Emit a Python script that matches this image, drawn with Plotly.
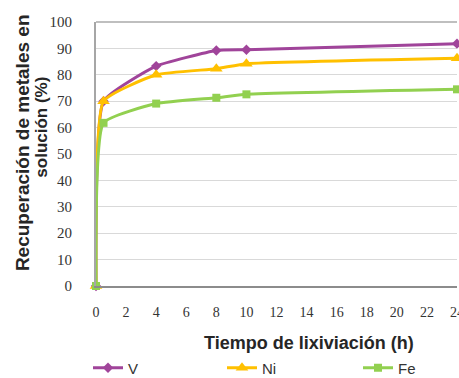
import plotly.graph_objects as go

tiempo = [0, 0.5, 4, 8, 10, 24]
v_vals = [0, 70, 83.3, 89.2, 89.5, 91.8]
ni_vals = [0, 70, 80, 82.3, 84.2, 86.3]
fe_vals = [0, 61.8, 69.1, 71.3, 72.6, 74.5]
x_ticks = list(range(0, 25, 2))
y_ticks = list(range(0, 101, 10))

fig = go.Figure()
series = [
    ("V", v_vals, "#A0449A", "diamond", 8, "legend"),
    ("Ni", ni_vals, "#FFC000", "triangle-up", 11, "legend2"),
    ("Fe", fe_vals, "#92D050", "square", 8, "legend3"),
]
for name, vals, color, sym, size, lg in series:
    fig.add_trace(go.Scatter(
        x=tiempo, y=vals, name=name, mode="lines+markers",
        line=dict(color=color, width=3, shape="spline", smoothing=0.42),
        marker=dict(symbol=sym, size=size, color=color),
        cliponaxis=False, legend=lg,
    ))

legend_font = dict(family="Liberation Sans, Arial", size=15, color="#333333")
def mk_legend(xpx):
    return dict(orientation="h", xref="container", yref="container",
                x=xpx / 459, xanchor="left", y=10 / 378, yanchor="middle",
                font=legend_font, bgcolor="rgba(0,0,0,0)")

title_font = "Liberation Sans, Arial"
fig.update_layout(
    width=459, height=378,
    margin=dict(l=96, r=2, t=22, b=92, autoexpand=False),
    paper_bgcolor="white", plot_bgcolor="white",
    showlegend=True,
    legend=mk_legend(88),
    legend2=mk_legend(222),
    legend3=mk_legend(358),
    xaxis=dict(range=[0, 24], tickvals=x_ticks, showgrid=False, zeroline=False,
               showline=True, linecolor="#8C8C8C", linewidth=2,
               ticks="outside", ticklen=12, tickcolor="rgba(0,0,0,0)",
               ticklabeloverflow="allow",
               tickfont=dict(family="Liberation Serif, Times New Roman", size=14, color="#333333")),
    yaxis=dict(range=[0, 100], tickvals=y_ticks, showgrid=True, gridcolor="#D9D9D9", gridwidth=1,
               zeroline=False, showline=True, linecolor="#A6A6A6", linewidth=2,
               ticks="outside", ticklen=19, tickcolor="rgba(0,0,0,0)",
               tickfont=dict(family="Liberation Serif, Times New Roman", size=15, color="#333333")),
    shapes=[dict(type="line", xref="paper", yref="paper", x0=0, x1=1, y0=1, y1=1,
                 line=dict(color="#BFBFBF", width=2))],
    annotations=[
        dict(text="<b>Tiempo de lixiviación (h)</b>", xref="paper", yref="paper",
             x=0.59, y=-0.215, xanchor="center", yanchor="middle", showarrow=False,
             font=dict(family=title_font, size=18, color="#262626")),
        dict(text="<b>Recuperación de metales en</b>", xref="paper", yref="paper",
             x=-0.205, y=0.545, xanchor="center", yanchor="middle", showarrow=False, textangle=-90,
             font=dict(family=title_font, size=19, color="#262626")),
        dict(text="<b>solución (%)</b>", xref="paper", yref="paper",
             x=-0.15, y=0.603, xanchor="center", yanchor="middle", showarrow=False, textangle=-90,
             font=dict(family=title_font, size=17, color="#262626")),
    ],
)

fig.write_html("out.html", config={"displayModeBar": False},
               post_script="document.body.style.margin='0';document.body.style.padding='0';")
